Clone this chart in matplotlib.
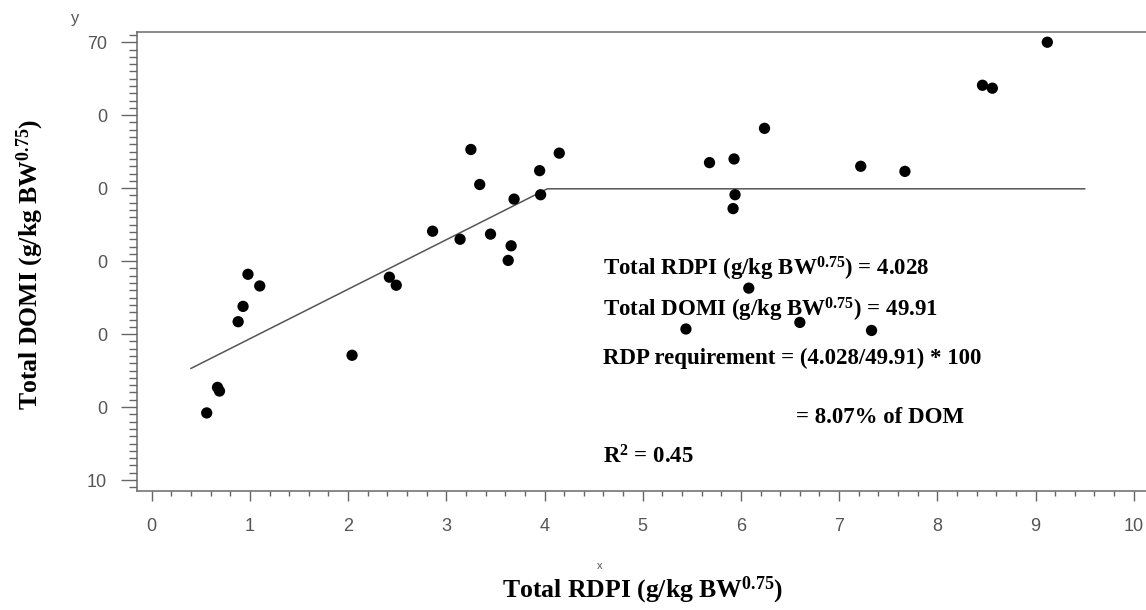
import matplotlib
matplotlib.use("Agg")
import matplotlib.pyplot as plt
from matplotlib.ticker import MultipleLocator, FixedLocator, FixedFormatter

plt.rcParams['mathtext.default'] = 'regular'

# observed points (RDPI, DOMI)
rdpi = [0.56, 0.67, 0.69, 0.88, 0.93, 0.98, 1.10, 2.04, 2.42, 2.49, 2.86,
        3.14, 3.25, 3.34, 3.45, 3.66, 3.63, 3.69, 3.95, 3.96, 4.15,
        5.44, 5.68, 5.92, 5.93, 5.94, 6.08, 6.24, 6.60, 7.22, 7.33, 7.67,
        8.46, 8.56, 9.12]
domi = [19.2, 22.7, 22.2, 31.7, 33.8, 38.2, 36.6, 27.1, 37.8, 36.7, 44.1,
        43.0, 55.3, 50.5, 43.7, 42.1, 40.1, 48.5, 52.4, 49.1, 54.8,
        30.7, 53.5, 47.2, 54.0, 49.1, 36.3, 58.2, 31.6, 53.0, 30.5, 52.3,
        64.1, 63.7, 70.0]

# broken-line fit
fit_x = [0.40, 4.028, 9.50]
fit_y = [25.3, 49.91, 49.91]

y_ticks = [10, 20, 30, 40, 50, 60, 70]
y_ticklabels = ['10', '0', '0', '0', '0', '0', '70']
x_ticks = [0, 1, 2, 3, 4, 5, 6, 7, 8, 9, 10]

notes = [
    "Total RDPI (g/kg BW$^{0.75}$) = 4.028",
    "Total DOMI (g/kg BW$^{0.75}$) = 49.91",
    "RDP requirement = (4.028/49.91) * 100",
    "= 8.07% of DOM",
    "R$^{2}$ = 0.45",
]

W, H = 1146, 610
fig = plt.figure(figsize=(W / 100, H / 100), dpi=100)

# axes runs past the right edge of the picture, as in the source
xmin, xmax = -0.15, 10.5
ymin, ymax = 8.5, 71.4
px_per_x = 98.2
left, bottom, top = 137, 491, 32
ax = fig.add_axes([left / W, 1 - bottom / H,
                   (xmax - xmin) * px_per_x / W, (bottom - top) / H])

ax.plot(fit_x, fit_y, color='#555555', lw=1.1, zorder=2)
ax.scatter(rdpi, domi, s=66, color='black', edgecolors='none', zorder=3)

ax.set_xlim(xmin, xmax)
ax.set_ylim(ymin, ymax)

for side in ['left', 'bottom', 'top']:
    ax.spines[side].set_color('#6a6a6a')
    ax.spines[side].set_linewidth(1.1)
ax.spines['right'].set_visible(False)

ax.xaxis.set_major_locator(FixedLocator(x_ticks))
ax.xaxis.set_minor_locator(MultipleLocator(0.2))
ax.yaxis.set_major_locator(FixedLocator(y_ticks))
ax.yaxis.set_major_formatter(FixedFormatter(y_ticklabels))
ax.yaxis.set_minor_locator(MultipleLocator(1))

ax.tick_params(axis='x', which='major', direction='out', length=7.5, width=1.0,
               color='#666666', pad=12, labelsize=13, labelcolor='#555555')
ax.tick_params(axis='x', which='minor', direction='out', length=3.6, width=1.0,
               color='#666666')
ax.tick_params(axis='y', which='major', direction='out', length=11.5, width=1.0,
               color='#666666', pad=10, labelsize=13, labelcolor='#555555')
ax.tick_params(axis='y', which='minor', direction='out', length=6, width=1.0,
               color='#666666')
for lab in ax.get_xticklabels() + ax.get_yticklabels():
    lab.set_family('Liberation Sans')

# small axis names left by the plotting program
fig.text(75 / W, 1 - 18 / H, 'y', fontsize=12, color='#555555',
         family='Liberation Sans', ha='center', va='center')
fig.text(600 / W, 1 - 566 / H, 'x', fontsize=8, color='#555555',
         family='Liberation Sans', ha='center', va='center')

# axis titles
fig.text(643 / W, 1 - 590 / H, "Total RDPI (g/kg BW$^{0.75}$)",
         family='Liberation Serif', weight='bold', fontsize=18.5,
         ha='center', va='center')
fig.text(30 / W, 1 - 264 / H, "Total DOMI (g/kg BW$^{0.75}$)",
         family='Liberation Serif', weight='bold', fontsize=18.5,
         ha='center', va='center', rotation=90)

# fit summary
note_pos = [(603, 276), (603, 316), (603, 364), (796, 423), (603, 464)]
for txt, (px, py) in zip(notes, note_pos):
    fig.text(px / W, 1 - py / H, txt, family='Liberation Serif',
             weight='bold', fontsize=16.5, ha='left', va='baseline')

fig.savefig('out.png', dpi=100)
